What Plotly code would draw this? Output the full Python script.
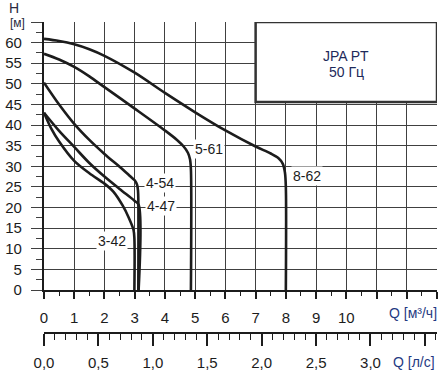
import plotly.graph_objects as go

# ---- data (Q in m3/h, H in m) ----
q_8_62 = [0, 0.5, 1, 1.5, 2, 3, 4, 5, 6, 7, 7.5, 7.75, 7.9, 7.97, 8.0, 8.0]
h_8_62 = [60.9, 60.4, 59.6, 58.4, 56.8, 52.7, 47.8, 43.1, 38.7, 34.8, 33.1, 32.0, 30.6, 28.5, 25.0, 0]

q_5_61 = [0, 0.5, 1, 1.5, 2, 3, 4, 4.4, 4.62, 4.76, 4.83, 4.86, 4.86]
h_5_61 = [57.3, 55.9, 54.1, 51.8, 49.2, 44.0, 38.7, 36.4, 34.8, 33.3, 31.7, 29.2, 0]

q_4_54 = [0, 0.5, 1, 1.5, 2, 2.5, 2.85, 3.0, 3.08, 3.11, 3.12, 3.12]
h_4_54 = [50.3, 45.0, 40.3, 36.4, 33.0, 29.9, 27.6, 26.6, 25.5, 24.0, 22.0, 0]

q_4_47 = [0, 0.5, 1, 1.5, 2, 2.5, 3.0, 3.13, 3.13]
h_4_47 = [43.0, 38.6, 34.7, 30.8, 27.5, 24.5, 21.6, 20.7, 0]

q_3_42 = [0, 0.25, 0.5, 1, 1.5, 2, 2.3, 2.6, 2.8, 2.96, 2.99, 2.99]
h_3_42 = [43.0, 39.0, 36.0, 31.3, 28.3, 25.8, 23.8, 20.5, 17.6, 14.6, 12.5, 0]

curve_names = ["8-62", "5-61", "4-54", "4-47", "3-42"]
label_x = [8.71, 5.47, 3.84, 3.86, 2.24]
label_y = [27.7, 34.1, 26.0, 20.3, 11.8]

x_ticks = list(range(0, 14))
x_ticktext = [str(v) for v in range(0, 11)] + ["", "", ""]
y_ticks = list(range(0, 70, 5))
y_ticktext = [str(v) for v in range(0, 65, 5)] + [""]
ls_ticks = [0, 0.5, 1.0, 1.5, 2.0, 2.5, 3.0, 3.5]
ls_ticktext = ["0,0", "0,5", "1,0", "1,5", "2,0", "2,5", "3,0", ""]

FONT = "Liberation Sans, Arial, sans-serif"
INK = "#1c1c1c"
GRID = "#404040"
NAVY = "#1f3a82"

fig = go.Figure()
for qs, hs in [(q_8_62, h_8_62), (q_5_61, h_5_61), (q_4_54, h_4_54),
               (q_4_47, h_4_47), (q_3_42, h_3_42)]:
    fig.add_trace(go.Scatter(x=qs, y=hs, mode="lines", xaxis="x", yaxis="y",
                             line=dict(color=INK, width=2.6, shape="spline", smoothing=0.9),
                             showlegend=False, hoverinfo="skip", cliponaxis=False))

# trace on the secondary (l/s) axis pair so it gets drawn
fig.add_trace(go.Scatter(x=[0, 13 / 3.6], y=[0, 0], xaxis="x2", yaxis="y2",
                         mode="lines", line=dict(width=0, color="rgba(0,0,0,0)"),
                         showlegend=False, hoverinfo="skip"))

for name, lx, ly in zip(curve_names, label_x, label_y):
    fig.add_annotation(x=lx, y=ly, text=name, showarrow=False,
                       font=dict(family=FONT, size=14, color=INK),
                       bgcolor="white", borderpad=1)

# title box
fig.add_shape(type="rect", x0=7, x1=13, y0=45.6, y1=65, xref="x", yref="y",
              line=dict(color="#333333", width=2.5), fillcolor="white", layer="above")
fig.add_annotation(x=10, y=56.7, text="JPA PT", showarrow=False,
                   font=dict(family=FONT, size=14, color="#1e2a5a"))
fig.add_annotation(x=10, y=52.8, text="50 Гц", showarrow=False,
                   font=dict(family=FONT, size=14, color="#1e2a5a"))

# axis captions (paper coordinates; plot area spans px 44..437 x 22..332)
fig.add_annotation(x=-0.0763, y=1.045, xref="paper", yref="paper", text="H",
                   showarrow=False, xanchor="center", yanchor="middle",
                   font=dict(family=FONT, size=14, color="#2a2a40"))
fig.add_annotation(x=-0.0687, y=0.997, xref="paper", yref="paper", text="[м]",
                   showarrow=False, xanchor="center", yanchor="middle",
                   font=dict(family=FONT, size=12, color="#2a2a40"))
fig.add_annotation(x=1.004, y=0.0613, xref="paper", yref="paper", text="Q [м³/ч]",
                   showarrow=False, xanchor="right", yanchor="middle",
                   font=dict(family=FONT, size=14, color=NAVY))
fig.add_annotation(x=1.001, y=-0.0968, xref="paper", yref="paper", text="Q [л/с]",
                   showarrow=False, xanchor="right", yanchor="middle",
                   font=dict(family=FONT, size=14, color=NAVY))

fig.update_layout(
    width=447, height=375,
    margin=dict(l=44, r=10, t=22, b=43, autoexpand=False),
    paper_bgcolor="white", plot_bgcolor="white",
    font=dict(family=FONT, size=15, color=INK),
    xaxis=dict(range=[0, 13], tickmode="array", tickvals=x_ticks, ticktext=x_ticktext,
               showgrid=True, gridcolor=GRID, gridwidth=1.2, zeroline=False,
               showline=True, linecolor=INK, linewidth=2.2,
               ticks="outside", ticklen=7, tickwidth=1.5, tickcolor=INK,
               ticklabelstandoff=6, automargin=False,
               tickfont=dict(family=FONT, size=15, color=INK),
               minor=dict(tickvals=[v + 0.5 for v in range(13)], ticks="outside",
                          ticklen=4, tickwidth=1.2, tickcolor=INK, showgrid=False),
               anchor="y", domain=[0, 1], fixedrange=True),
    yaxis=dict(range=[0, 65], domain=[0.1355, 1], tickmode="array",
               tickvals=y_ticks, ticktext=y_ticktext,
               showgrid=True, gridcolor=GRID, gridwidth=1.2, zeroline=False,
               showline=True, linecolor=INK, linewidth=2.2,
               ticks="outside", ticklen=11, tickwidth=1.2, tickcolor=GRID,
               ticklabelstandoff=6, automargin=False,
               tickfont=dict(family=FONT, size=15, color=INK),
               minor=dict(tickvals=[v + 2.5 for v in range(0, 65, 5)], ticks="outside",
                          ticklen=6, tickwidth=1.2, tickcolor=GRID, showgrid=False),
               anchor="x", fixedrange=True),
    xaxis2=dict(range=[0, 13 / 3.6], anchor="y2", domain=[0, 1],
                tickmode="array", tickvals=ls_ticks, ticktext=ls_ticktext,
                showgrid=False, zeroline=False, showline=True, linecolor=INK, linewidth=2,
                ticks="outside", ticklen=12, tickwidth=1.8, tickcolor=INK,
                ticklabelstandoff=4, automargin=False,
                tickfont=dict(family=FONT, size=15, color=INK),
                minor=dict(tickvals=[round(i * 0.1, 1) for i in range(37) if i % 5 != 0],
                           ticks="outside", ticklen=6, tickwidth=1.2, tickcolor=INK,
                           showgrid=False),
                fixedrange=True),
    yaxis2=dict(domain=[0, 0.004], visible=False, anchor="x2", range=[0, 1],
                fixedrange=True),
)

fig.write_html("out.html", config={"displayModeBar": False},
               post_script="document.body.style.margin='0px';")
